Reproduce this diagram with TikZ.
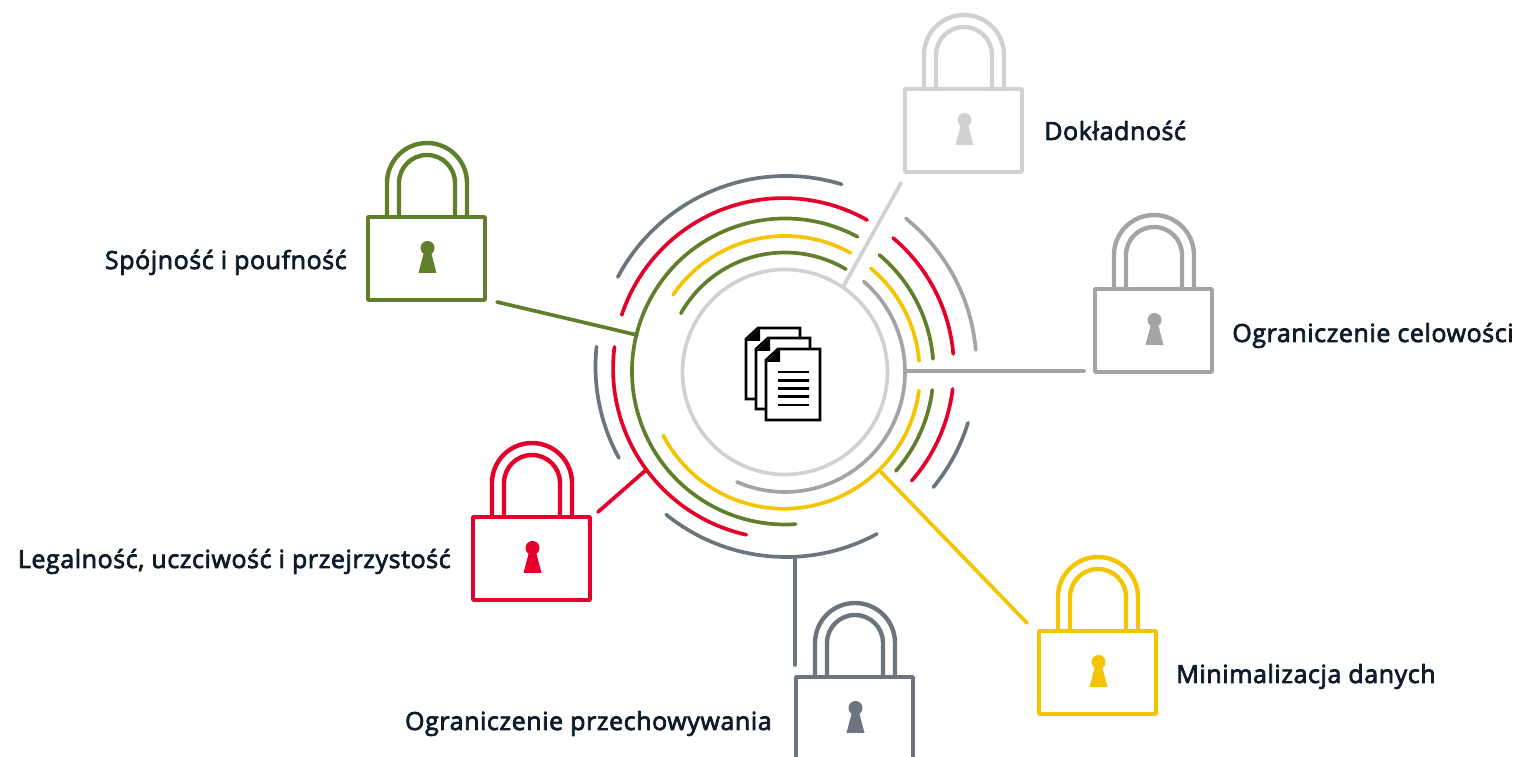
\documentclass[tikz,border=0pt]{standalone}
\usepackage{fontspec}
\setmainfont{Open Sans}[FakeBold=3,LetterSpace=2.4]
\definecolor{lockgreen}{HTML}{5F7F2B}
\definecolor{lockred}{HTML}{E4002B}
\definecolor{lockyellow}{HTML}{F5C400}
\definecolor{lockslate}{HTML}{6C757D}
\definecolor{lockgray}{HTML}{A2A4A5}
\definecolor{locklight}{HTML}{CFD1D3}
\definecolor{labelink}{HTML}{0D1B2A}
\tikzset{
	ringline/.style={line width=2.1pt},
	lab/.style={text=labelink,inner sep=0pt,font=\fontsize{14.2}{16}\selectfont},
	pics/padlock/.style={code={
		\draw[#1,line width=2.1pt] (0,0) rectangle (117,-83);
		\draw[#1,line width=2.5pt] (19,0)--(19,34) arc (180:0:40)--(99,0);
		\draw[#1,line width=2.5pt] (31,0)--(31,34) arc (180:0:28)--(87,0);
		\fill[#1] (59.5,-31) circle (7);
		\fill[#1] (56,-35)--(63,-35)--(68.5,-56)--(50.5,-56)--cycle;
	}},
	pics/sheet/.style={code={
		\draw[black,fill=white,line width=1.5pt,line join=miter] (0,-11)--(12,0)--(54,0)--(54,-71)--(0,-71)--cycle;
		\fill[black] (0,-13)--(14,0)--(14,-13)--cycle;
	}}
}
\begin{document}
\begin{tikzpicture}[x=0.02cm,y=0.02cm,line join=round,line cap=round]
	\useasboundingbox (0,0) rectangle (1519,757);
	\path (497,455)coordinate(G1) (637,422)coordinate(G2)
		(901,574)coordinate(L1) (843,470)coordinate(L2)
		(1084,386)coordinate(M1) (907,386)coordinate(M2)
		(1027,134)coordinate(Y1) (881,285)coordinate(Y2)
		(795,92)coordinate(S1) (795,200)coordinate(S2)
		(598,245)coordinate(R1) (646,287)coordinate(R2);
	% slate ring
	\draw[lockslate,ringline] (786,390.5) ++(152:190.5) arc (152:73:190.5);
	\draw[lockslate,ringline] (786,390.5) ++(174:190.5) arc (174:208.7:190.5);
	\draw[lockslate,ringline] (786,390.5) ++(231:190.5) arc (231:298.5:190.5);
	\draw[lockslate,ringline] (786,390.5) ++(-39.3:190.5) arc (-39.3:-17.2:190.5);
	\draw[lockgray,ringline] (786,390.5) ++(51:190.5) arc (51:5:190.5);
	% red ring
	\draw[lockred,ringline] (783.5,388.5) ++(161.7:170.4) arc (161.7:60.6:170.4);
	\draw[lockred,ringline] (783.5,388.5) ++(172.7:170.4) arc (172.7:257.4:170.4);
	\draw[lockred,ringline] (783.5,388.5) ++(50:170.4) arc (50:4.9:170.4);
	\draw[lockred,ringline] (783.5,388.5) ++(-6.9:170.4) arc (-6.9:-41.2:170.4);
	% green rings
	\draw[lockgreen,ringline] (785,385.5) ++(61.7:153) arc (61.7:274:153);
	\draw[lockgreen,ringline] (782,386) ++(50:151.5) arc (50:4.6:151.5);
	\draw[lockgreen,ringline] (782,386) ++(-7.2:151.5) arc (-7.2:-41.3:151.5);
	\draw[lockgreen,ringline] (785,385) ++(150.6:119.5) arc (150.6:59.4:119.5);
	% yellow ring
	\draw[lockyellow,ringline] (785,385) ++(145.4:136) arc (145.4:61.2:136);
	\draw[lockyellow,ringline] (785,385) ++(50.4:134.5) arc (50.4:4.7:134.5);
	\draw[lockyellow,ringline] (784,384.5) ++(207.5:136.2) arc (207.5:352.3:136.2);
	% gray ring and inner circle
	\draw[lockgray,ringline] (785,385) ++(49:120) arc (49:-113.6:120);
	\draw[locklight,ringline] (785,385) circle (102.5);
	% connectors
	\draw[lockgreen,ringline] (G1)--(G2);
	\draw[locklight,ringline] (L1)--(L2);
	\draw[lockgray,ringline] (M1)--(M2);
	\draw[lockyellow,ringline] (Y1)--(Y2);
	\draw[lockslate,ringline] (S1)--(S2);
	\draw[lockred,ringline] (R1)--(R2);
	% padlocks
	\pic at (368,540) {padlock=lockgreen};
	\pic at (905,668) {padlock=locklight};
	\pic at (1095,468) {padlock=lockgray};
	\pic at (473,240) {padlock=lockred};
	\pic at (1039,126) {padlock=lockyellow};
	\pic at (796,80) {padlock=lockslate};
	% documents
	\pic at (746,429) {sheet};
	\pic at (756,419) {sheet};
	\pic at (766,408) {sheet};
	\draw[black,line width=1.5pt,line cap=butt] (778,385)--(809,385) (778,376.7)--(809,376.7) (778,368.3)--(809,368.3) (778,360.3)--(809,360.3) (778,352)--(809,352);
	% labels
	\node[lab,anchor=base west] (dok) at (1044,617) {Dokładność};
	\node[lab,anchor=base west] (cel) at (1232,415) {Ograniczenie celowości};
	\node[lab,anchor=base east] (spo) at (347,488) {Spójność i poufność};
	\node[lab,anchor=base east] (leg) at (451,189) {Legalność, uczciwość i przejrzystość};
	\node[lab,anchor=base west] (min) at (1176,74) {Minimalizacja danych};
	\node[lab,anchor=base east] (prz) at (772,27) {Ograniczenie przechowywania};
\end{tikzpicture}
\end{document}
